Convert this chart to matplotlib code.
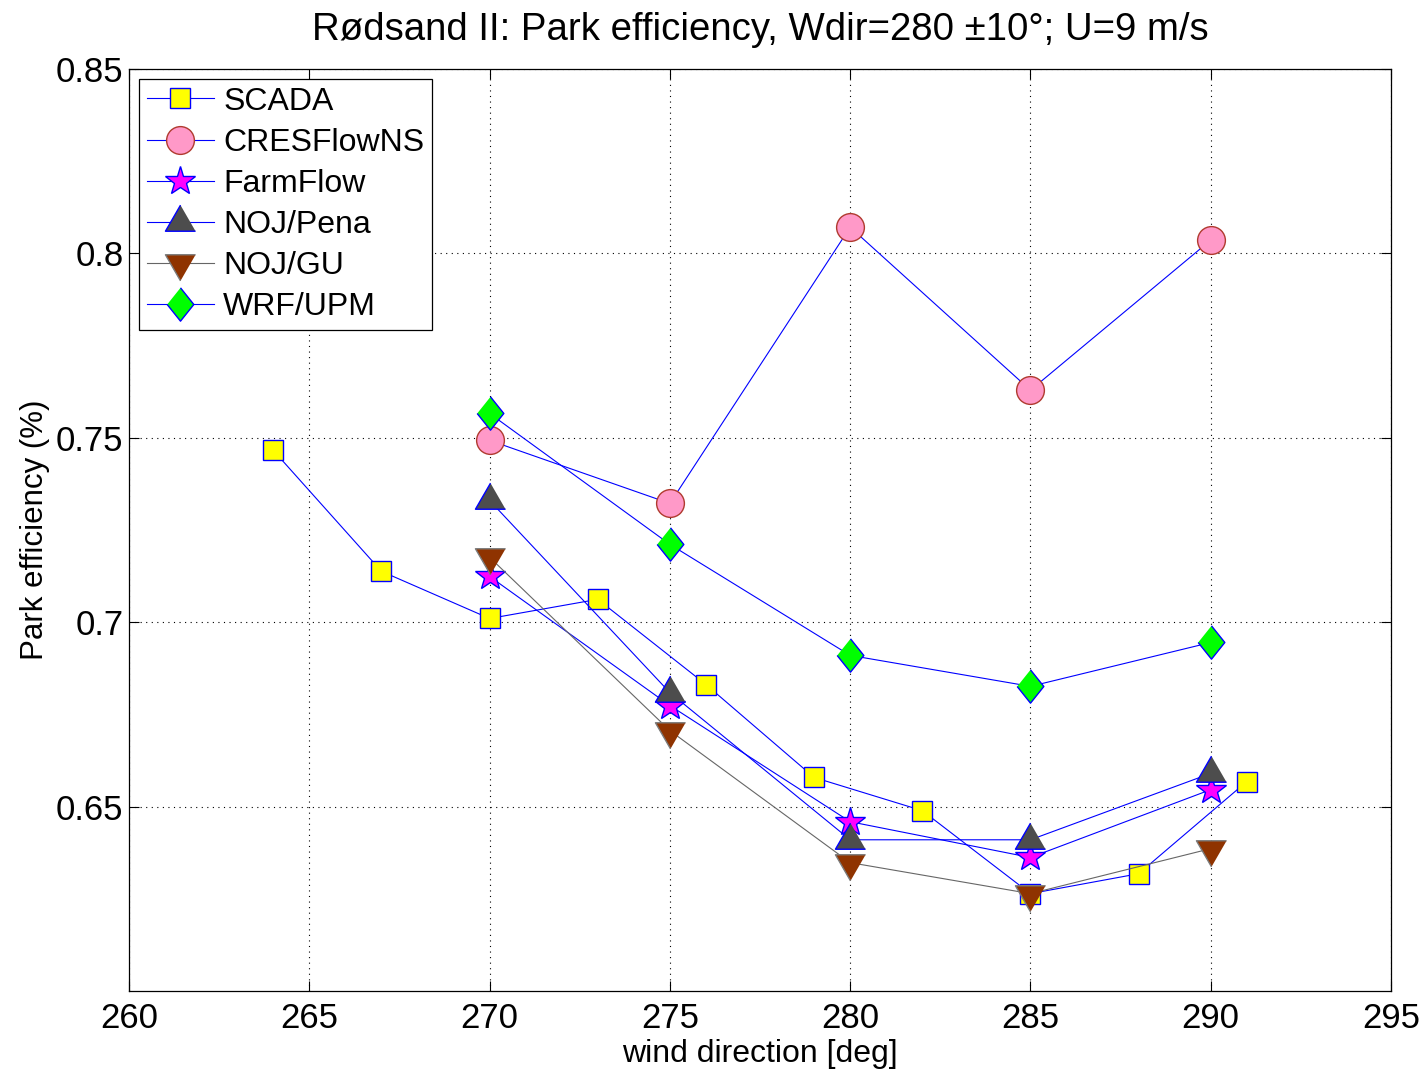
import matplotlib
matplotlib.use("Agg")
import matplotlib.pyplot as plt

plt.rcParams['font.family'] = ['Liberation Sans', 'DejaVu Sans']

# wind direction [deg] / park efficiency
scada_x = [264, 267, 270, 273, 276, 279, 282, 285, 288, 291]
scada_y = [0.7466, 0.7138, 0.7010, 0.7062, 0.6831, 0.6579, 0.6489, 0.6264, 0.6318, 0.6568]

model_x = [270, 275, 280, 285, 290]
cres_y = [0.7493, 0.7322, 0.8071, 0.7629, 0.8036]
farmflow_y = [0.7124, 0.6774, 0.6459, 0.6362, 0.6546]
pena_y = [0.7330, 0.6809, 0.6410, 0.6410, 0.6590]
gu_y = [0.7176, 0.6706, 0.6348, 0.6264, 0.6386]
wrf_y = [0.7566, 0.7211, 0.6910, 0.6826, 0.6945]

labels = ['SCADA', 'CRESFlowNS', 'FarmFlow', 'NOJ/Pena', 'NOJ/GU', 'WRF/UPM']

# matlab-like markers
tri_up = [(0, 17.3), (-15, -8.7), (15, -8.7)]
tri_dn = [(0, -17.3), (-15, 8.7), (15, 8.7)]
diamond = [(0, 1), (0.8, 0), (0, -1), (-0.8, 0)]

fig = plt.figure(figsize=(14.27, 10.71), dpi=100)
ax = fig.add_axes([0.0904, 0.0747, 0.8844, 0.8609])

blue = '#0000ff'
ax.plot(scada_x, scada_y, '-', color=blue, lw=0.8, marker='s', ms=15,
        mfc='#ffff00', mec=blue, mew=1.0, label=labels[0])
ax.plot(model_x, cres_y, '-', color=blue, lw=0.8, marker='o', ms=20,
        mfc='#ff99c8', mec='#b03a2e', mew=1.0, label=labels[1])
ax.plot(model_x, farmflow_y, '-', color=blue, lw=0.8, marker='*', ms=22,
        mfc='#ff00ff', mec=blue, mew=1.0, label=labels[2])
ax.plot(model_x, pena_y, '-', color=blue, lw=0.8, marker=tri_up, ms=25,
        mfc='#4d4d4d', mec=blue, mew=1.0, label=labels[3])
ax.plot(model_x, gu_y, '-', color='#666666', lw=0.8, marker=tri_dn, ms=25,
        mfc='#8f3300', mec='#7a7a7a', mew=1.0, label=labels[4])
ax.plot(model_x, wrf_y, '-', color=blue, lw=0.8, marker=diamond, ms=24,
        mfc='#00ff00', mec=blue, mew=1.0, label=labels[5])

ax.set_xlim(260, 295)
ax.set_ylim(0.6, 0.85)
ax.set_xticks(range(260, 296, 5))
ax.set_yticks([0.65, 0.7, 0.75, 0.8, 0.85])
ax.set_yticklabels(['0.65', '0.7', '0.75', '0.8', '0.85'])
ax.tick_params(direction='in', length=7, width=0.8, labelsize=25,
               top=True, right=True)
ax.tick_params(axis='x', pad=8)
ax.tick_params(axis='y', pad=4)
ax.grid(True, linestyle=(0, (1, 4)), color='black', lw=0.8)
for s in ax.spines.values():
    s.set_linewidth(0.9)

ax.set_title('Rødsand II: Park efficiency, Wdir=280 \u00b110°; U=9 m/s',
             fontsize=27.6, pad=21)
ax.set_xlabel('wind direction [deg]', fontsize=23, labelpad=3)
ax.set_ylabel('Park efficiency (%)', fontsize=22.5, labelpad=4)

leg = ax.legend(loc='upper left', fontsize=23, frameon=True, fancybox=False,
                edgecolor='black', framealpha=1, borderaxespad=0.3,
                handlelength=2.1, handletextpad=0.3, labelspacing=0.35,
                borderpad=0.25)
leg.get_frame().set_linewidth(0.9)

fig.savefig('out.png', dpi=100)
